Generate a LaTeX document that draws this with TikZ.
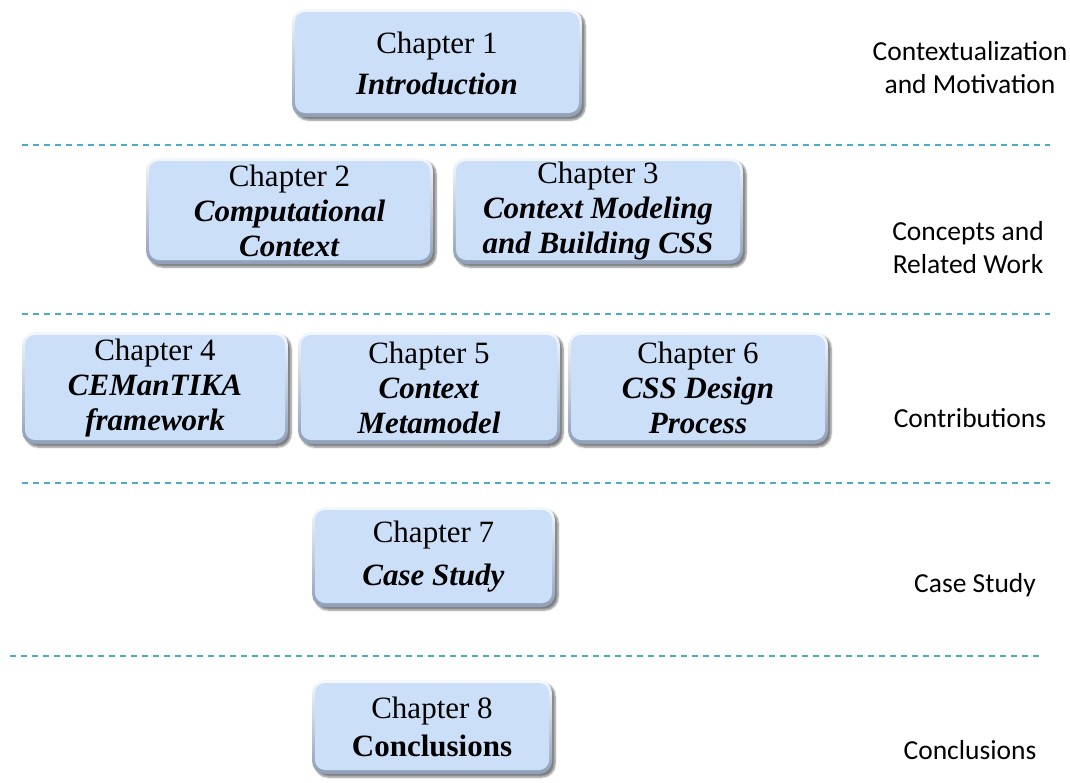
\documentclass[tikz,border=0pt]{standalone}
\usepackage{fontspec}
\setmainfont{Liberation Serif}
\newfontfamily\labelfont{Carlito}
\usetikzlibrary{shadows.blur}
\definecolor{boxfill}{HTML}{CCDFF8}
\definecolor{rimtop}{HTML}{F4F8FE}
\definecolor{rimbot}{HTML}{8E9FB8}
\definecolor{sepblue}{HTML}{4BACC6}
\begin{document}
\begin{tikzpicture}[x=1pt,y=-1pt,
  chapbox/.style={rounded corners=13pt, top color=rimtop, bottom color=rimbot,
    align=center, font=\fontsize{31}{35}\selectfont, inner sep=0pt,
    blur shadow={shadow xshift=3pt, shadow yshift=-3pt, shadow blur steps=6, shadow opacity=50},
    path picture={\fill[boxfill, rounded corners=10pt]
      ([shift={(3pt,4pt)}]path picture bounding box.south west) rectangle
      ([shift={(-3pt,-3pt)}]path picture bounding box.north east);}},
  partlabel/.style={align=center, font=\labelfont\fontsize{27.5}{33}\selectfont},
  sepline/.style={draw=sepblue, line width=1.2pt, dash pattern=on 6pt off 5pt}]
\useasboundingbox (0,0) rectangle (1070,782);

% chapter boxes
\node[chapbox, minimum width=290pt, minimum height=108pt] (c1) at (437,63) {Chapter 1\\[6pt]\textbf{\textit{Introduction}}};
\node[chapbox, minimum width=287pt, minimum height=106pt] (c2) at (289.5,211) {Chapter 2\\\textbf{\textit{Computational}}\\\textbf{\textit{Context}}};
\node[chapbox, minimum width=290pt, minimum height=106pt] (c3) at (598,211) {Chapter 3\\\textbf{\textit{Context Modeling}}\\\textbf{\textit{and Building CSS}}};
\node[chapbox, minimum width=266pt, minimum height=112pt] (c4) at (155,388) {Chapter 4\\\textbf{\textit{CEManTIKA}}\\\textbf{\textit{framework}}};
\node[chapbox, minimum width=262pt, minimum height=112pt] (c5) at (429,388) {Chapter 5\\\textbf{\textit{Context}}\\\textbf{\textit{Metamodel}}};
\node[chapbox, minimum width=260pt, minimum height=112pt] (c6) at (698,388) {Chapter 6\\\textbf{\textit{CSS Design}}\\\textbf{\textit{Process}}};
\node[chapbox, minimum width=243pt, minimum height=100pt] (c7) at (433.5,557) {Chapter 7\\[8pt]\textbf{\textit{Case Study}}};
\node[chapbox, minimum width=240pt, minimum height=94pt] (c8) at (432,727) {Chapter 8\\[3pt]\textbf{Conclusions}};

% part labels
\node[partlabel] (l1) at (970,68) {Contextualization\\and Motivation};
\node[partlabel] (l2) at (968,248) {Concepts and\\Related Work};
\node[partlabel] (l3) at (970,418) {Contributions};
\node[partlabel] (l4) at (975,585) {Case Study};
\node[partlabel] (l5) at (970,750) {Conclusions};

% separators
\coordinate (s1a) at (22,145); \coordinate (s1b) at (1050,145);
\coordinate (s2a) at (22,314); \coordinate (s2b) at (1050,314);
\coordinate (s3a) at (22,483); \coordinate (s3b) at (1050,483);
\coordinate (s4a) at (10,656); \coordinate (s4b) at (1040,656);
\draw[sepline] (s1a) -- (s1b);
\draw[sepline] (s2a) -- (s2b);
\draw[sepline] (s3a) -- (s3b);
\draw[sepline] (s4a) -- (s4b);
\end{tikzpicture}
\end{document}
